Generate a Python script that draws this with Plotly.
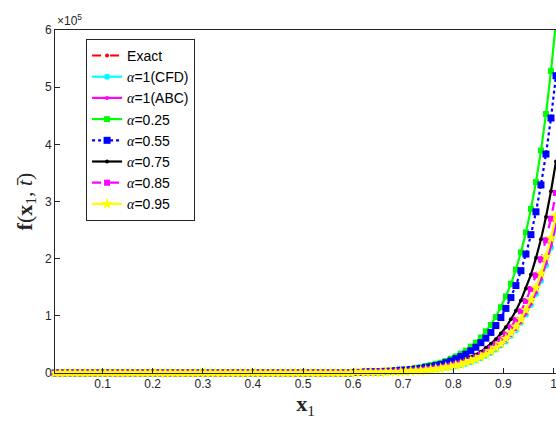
import plotly.graph_objects as go

# x positions (0.005 ... 1.005, step 0.01)
x_vals = [0.005, 0.015, 0.025, 0.035, 0.045, 0.055, 0.065, 0.075, 0.085, 0.095,
          0.105, 0.115, 0.125, 0.135, 0.145, 0.155, 0.165, 0.175, 0.185, 0.195,
          0.205, 0.215, 0.225, 0.235, 0.245, 0.255, 0.265, 0.275, 0.285, 0.295,
          0.305, 0.315, 0.325, 0.335, 0.345, 0.355, 0.365, 0.375, 0.385, 0.395,
          0.405, 0.415, 0.425, 0.435, 0.445, 0.455, 0.465, 0.475, 0.485, 0.495,
          0.505, 0.515, 0.525, 0.535, 0.545, 0.555, 0.565, 0.575, 0.585, 0.595,
          0.605, 0.615, 0.625, 0.635, 0.645, 0.655, 0.665, 0.675, 0.685, 0.695,
          0.705, 0.715, 0.725, 0.735, 0.745, 0.755, 0.765, 0.775, 0.785, 0.795,
          0.805, 0.815, 0.825, 0.835, 0.845, 0.855, 0.865, 0.875, 0.885, 0.895,
          0.905, 0.915, 0.925, 0.935, 0.945, 0.955, 0.965, 0.975, 0.985, 0.995,
          1.005]

Z60 = [0, 0, 0, 0, 0, 0, 0, 0, 0, 0, 0, 0, 0, 0, 0, 0, 0, 0, 0, 0,
       0, 0, 0, 0, 0, 0, 0, 0, 0, 0, 0, 0, 0, 0, 0, 0, 0, 0, 0, 0,
       0, 0, 0, 0, 0, 0, 0, 0, 0, 0, 0, 0, 0, 0, 0, 0, 0, 0, 0, 0]

# values in units of 1e5 (tail region x >= 0.605)
exact_tail = [0.01, 0.01, 0.01, 0.01, 0.01, 0.01, 0.01, 0.02, 0.02, 0.02, 0.03,
              0.03, 0.04, 0.04, 0.05, 0.06, 0.07, 0.08, 0.09, 0.11, 0.12, 0.14,
              0.17, 0.19, 0.23, 0.26, 0.31, 0.36, 0.42, 0.48, 0.56, 0.66, 0.77,
              0.89, 1.04, 1.21, 1.41, 1.64, 1.92, 2.23, 2.60]
cfd_tail = [0.01, 0.01, 0.01, 0.01, 0.01, 0.01, 0.01, 0.02, 0.02, 0.02, 0.03,
            0.03, 0.04, 0.04, 0.05, 0.06, 0.07, 0.08, 0.09, 0.10, 0.12, 0.14,
            0.16, 0.19, 0.22, 0.26, 0.30, 0.35, 0.41, 0.48, 0.55, 0.65, 0.75,
            0.88, 1.02, 1.19, 1.38, 1.61, 1.88, 2.19, 2.55]
abc_tail = [0.01, 0.01, 0.01, 0.01, 0.01, 0.01, 0.01, 0.02, 0.02, 0.02, 0.03,
            0.03, 0.04, 0.04, 0.05, 0.06, 0.07, 0.08, 0.09, 0.11, 0.12, 0.14,
            0.17, 0.19, 0.23, 0.26, 0.31, 0.36, 0.42, 0.48, 0.56, 0.66, 0.77,
            0.89, 1.04, 1.21, 1.41, 1.64, 1.92, 2.23, 2.60]
a025_tail = [0.01, 0.02, 0.02, 0.02, 0.03, 0.03, 0.03, 0.04, 0.05, 0.05, 0.06,
             0.07, 0.09, 0.10, 0.12, 0.14, 0.16, 0.18, 0.21, 0.25, 0.29, 0.34,
             0.39, 0.46, 0.53, 0.62, 0.73, 0.84, 0.98, 1.15, 1.34, 1.56, 1.81,
             2.11, 2.46, 2.87, 3.34, 3.89, 4.53, 5.28, 6.15]
a055_tail = [0.01, 0.01, 0.02, 0.02, 0.02, 0.02, 0.03, 0.03, 0.04, 0.05, 0.05,
             0.06, 0.07, 0.08, 0.10, 0.11, 0.13, 0.15, 0.18, 0.21, 0.25, 0.29,
             0.33, 0.39, 0.45, 0.53, 0.61, 0.71, 0.83, 0.97, 1.13, 1.32, 1.53,
             1.79, 2.08, 2.42, 2.82, 3.29, 3.83, 4.46, 5.20]
a075_tail = [0.01, 0.01, 0.01, 0.01, 0.02, 0.02, 0.02, 0.02, 0.03, 0.03, 0.04,
             0.04, 0.05, 0.06, 0.07, 0.08, 0.09, 0.11, 0.13, 0.15, 0.17, 0.20,
             0.24, 0.28, 0.32, 0.37, 0.44, 0.51, 0.59, 0.69, 0.80, 0.94, 1.09,
             1.27, 1.48, 1.72, 2.01, 2.34, 2.73, 3.18, 3.70]
a085_tail = [0.01, 0.01, 0.01, 0.01, 0.01, 0.02, 0.02, 0.02, 0.02, 0.03, 0.03,
             0.04, 0.04, 0.05, 0.06, 0.07, 0.08, 0.09, 0.11, 0.13, 0.15, 0.17,
             0.20, 0.23, 0.27, 0.32, 0.37, 0.43, 0.50, 0.59, 0.68, 0.80, 0.93,
             1.08, 1.26, 1.47, 1.71, 1.99, 2.32, 2.70, 3.15]
a095_tail = [0.01, 0.01, 0.01, 0.01, 0.01, 0.01, 0.02, 0.02, 0.02, 0.02, 0.03,
             0.03, 0.04, 0.04, 0.05, 0.06, 0.07, 0.08, 0.10, 0.11, 0.13, 0.15,
             0.18, 0.21, 0.24, 0.28, 0.32, 0.38, 0.44, 0.51, 0.60, 0.70, 0.81,
             0.94, 1.10, 1.28, 1.49, 1.74, 2.03, 2.36, 2.75]

exact = Z60 + exact_tail
cfd = Z60 + cfd_tail
abc = Z60 + abc_tail
a025 = Z60 + a025_tail
a055 = Z60 + a055_tail
a075 = Z60 + a075_tail
a085 = Z60 + a085_tail
a095 = Z60 + a095_tail

x_tickvals = [0.1, 0.2, 0.3, 0.4, 0.5, 0.6, 0.7, 0.8, 0.9, 1.0]
x_ticktext = ["0.1", "0.2", "0.3", "0.4", "0.5", "0.6", "0.7", "0.8", "0.9", "1"]
y_tickvals = [0, 1, 2, 3, 4, 5, 6]
y_ticktext = ["0", "1", "2", "3", "4", "5", "6"]

A = "<span style=\"font-family:'Liberation Serif'\"><i>α</i></span>"

series = [
    ("Exact", exact, "#FF0000", "dash", "circle", 4),
    (A + "=1(CFD)", cfd, "#00FFFF", "solid", "circle", 6),
    (A + "=1(ABC)", abc, "#FF00FF", "solid", "circle", 4),
    (A + "=0.25", a025, "#00FF00", "solid", "square", 6),
    (A + "=0.55", a055, "#0000FF", "dot", "square", 7),
    (A + "=0.75", a075, "#000000", "solid", "circle", 4),
    (A + "=0.85", a085, "#FF00FF", "dash", "square", 6),
    (A + "=0.95", a095, "#FFFF00", "solid", "star", 9),
]

fig = go.Figure()
for name, vals, color, dash, sym, msize in series:
    fig.add_trace(go.Scatter(
        x=x_vals, y=vals, name=name, mode="lines+markers",
        line=dict(color=color, width=2.2, dash=dash),
        marker=dict(color=color, symbol=sym, size=msize, line=dict(width=0)),
        cliponaxis=False,
    ))

axis_common = dict(
    showline=True, mirror=True, linecolor="#262626", linewidth=1,
    ticks="inside", ticklen=5, tickcolor="#262626",
    showgrid=False, zeroline=False, automargin=False,
    ticklabeloverflow="allow",
    tickfont=dict(family="Liberation Sans", size=12, color="#262626"),
)

fig.update_layout(
    width=556, height=423,
    margin=dict(l=55, r=0, t=30, b=50, autoexpand=False),
    paper_bgcolor="white", plot_bgcolor="white",
    xaxis=dict(range=[0.005, 1.005], tickvals=x_tickvals, ticktext=x_ticktext,
               title=dict(text="<b>x</b><sub>1</sub>", standoff=2,
                          font=dict(family="Liberation Serif", size=22, color="#262626")),
               **axis_common),
    yaxis=dict(range=[0, 6], tickvals=y_tickvals, ticktext=y_ticktext,
               title=dict(text="<b>f</b>(<b>x</b><sub>1</sub>, <i>t̄</i>)", standoff=6,
                          font=dict(family="Liberation Serif", size=22, color="#262626")),
               **axis_common),
    legend=dict(x=0.062, y=0.974, xanchor="left", yanchor="top",
                bgcolor="white", bordercolor="#262626", borderwidth=1,
                font=dict(family="Liberation Sans", size=14, color="black"),
                tracegroupgap=0),
    showlegend=True,
    annotations=[dict(text="×10<sup>5</sup>", xref="paper", yref="paper",
                      x=0.0, y=1.0, xanchor="left", yanchor="bottom",
                      showarrow=False,
                      font=dict(family="Liberation Sans", size=12, color="#262626"))],
)

fig.write_html(
    "out.html",
    config={"displayModeBar": False},
    post_script="document.body.style.margin='0';document.body.style.overflow='hidden';",
)
